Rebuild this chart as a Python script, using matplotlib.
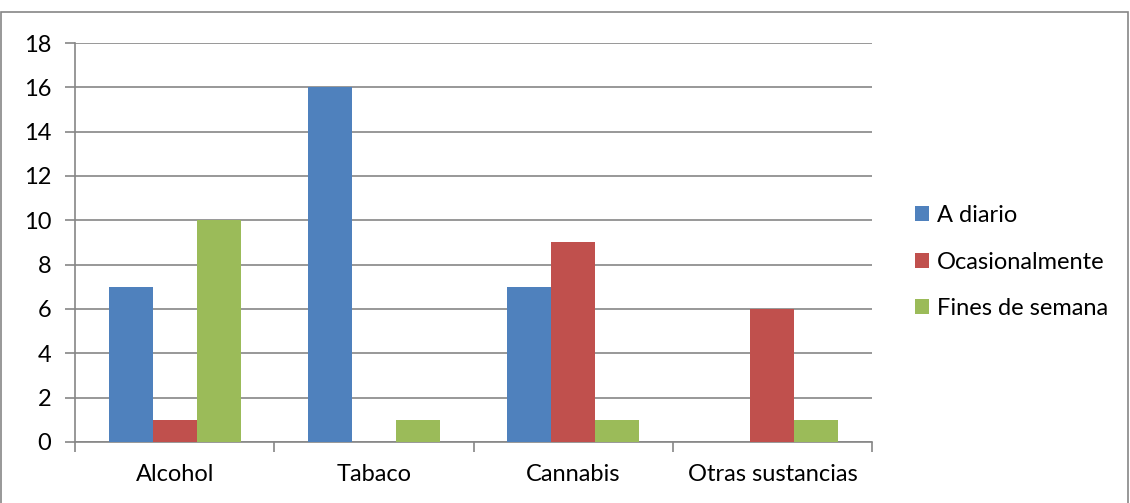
import matplotlib.pyplot as plt
import numpy as np
from matplotlib.patches import Rectangle

plt.rcParams['font.family'] = ['Lato', 'DejaVu Sans']

categorias = ['Alcohol', 'Tabaco', 'Cannabis', 'Otras sustancias']
series = ['A diario', 'Ocasionalmente', 'Fines de semana']
a_diario = [7, 16, 7, 0]
ocasional = [1, 0, 9, 6]
fines = [10, 1, 1, 1]
colores = ['#4F81BD', '#C0504D', '#9BBB59']

fig = plt.figure(figsize=(11.3, 5.03), dpi=100)
ax = fig.add_axes([0.0664, 0.1213, 0.7053, 0.7932])

x = np.arange(len(categorias))
w = 0.221
for i, (vals, nombre) in enumerate(zip([a_diario, ocasional, fines], series)):
    ax.bar(x + (i - 1) * w, vals, w, color=colores[i], label=nombre, zorder=3)

ax.set_xlim(-0.5, 3.5)
ax.set_ylim(0, 18)
ax.set_yticks(range(0, 19, 2))
ax.yaxis.grid(True, color='#868686', linewidth=1.2, zorder=0)
ax.set_xticks([-0.5, 0.5, 1.5, 2.5, 3.5])
ax.set_xticklabels([])
ax.set_xticks(x, minor=True)
ax.set_xticklabels(categorias, minor=True)
ax.tick_params(axis='x', which='minor', length=0, pad=16, labelsize=17)
ax.tick_params(axis='x', which='major', length=7, color='#868686', width=1.2)
ax.tick_params(axis='y', length=7, color='#868686', width=1.2, labelsize=17, pad=10)
for s in ['top', 'right']:
    ax.spines[s].set_visible(False)
for s in ['left', 'bottom']:
    ax.spines[s].set_color('#868686')
    ax.spines[s].set_linewidth(1.2)

fig.legend(loc='center left', bbox_to_anchor=(0.8097, 0.479), frameon=False,
           fontsize=17, handlelength=0.6, handleheight=0.6, handletextpad=0.34,
           labelspacing=1.07, borderaxespad=0, borderpad=0)

fig.patches.append(Rectangle((0.001, -0.05), 0.997, 1.026, transform=fig.transFigure,
                             fill=False, edgecolor='#868686', linewidth=1.2))

fig.savefig('out.png', dpi=100)
